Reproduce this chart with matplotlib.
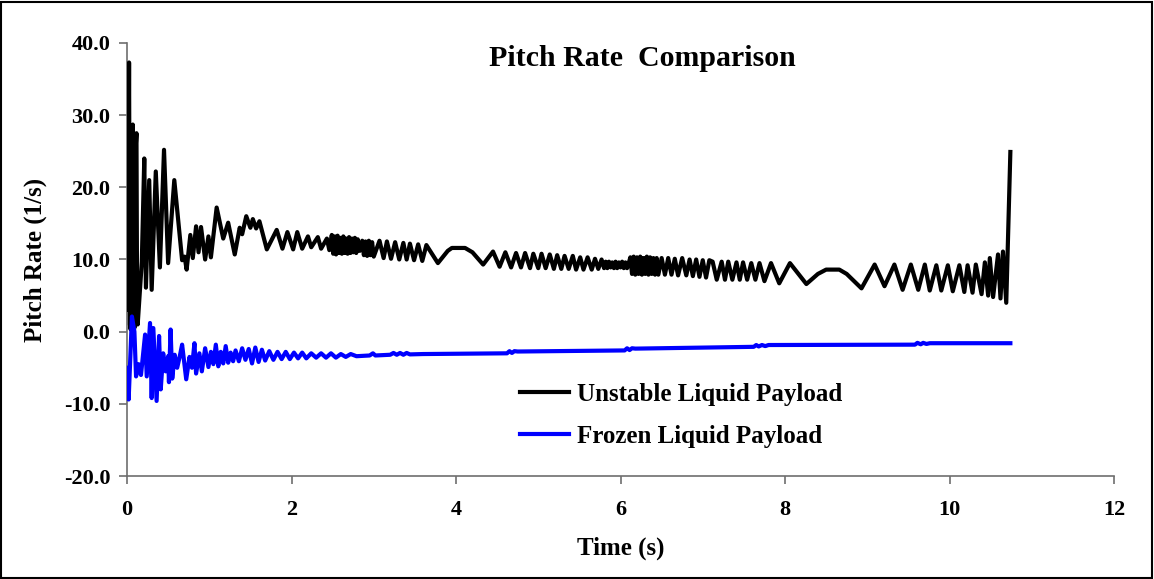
import matplotlib
matplotlib.use("Agg")
import matplotlib.pyplot as plt
from matplotlib.patches import Rectangle

# ---- data (peaks and troughs) ----
unstable_t = [
    0.00, 0.012, 0.025, 0.035, 0.045, 0.058, 0.07, 0.08, 0.09, 0.103, 0.115,
    0.123, 0.13, 0.18, 0.21, 0.23, 0.27, 0.30,
    0.35, 0.40, 0.45, 0.50, 0.575, 0.67, 0.70, 0.725, 0.77, 0.80, 0.84, 0.87,
    0.90, 0.95, 0.99, 1.02, 1.09, 1.17, 1.23, 1.31, 1.37, 1.40, 1.45, 1.50,
    1.53, 1.57, 1.61, 1.70, 1.82, 1.89, 1.95, 2.02, 2.07, 2.13, 2.20, 2.24,
    2.32, 2.36, 2.43, 2.46,
    2.49, 2.507, 2.525, 2.542, 2.56, 2.577, 2.595, 2.612, 2.63, 2.647, 2.665,
    2.682, 2.70, 2.717, 2.735, 2.752, 2.77, 2.787, 2.805, 2.83,
    2.86, 2.88, 2.90, 2.92, 2.94, 2.96, 2.98, 3.00,
    3.07, 3.12, 3.16, 3.21, 3.26, 3.31, 3.36, 3.40, 3.44, 3.49, 3.54, 3.59,
    3.64, 3.78, 3.90, 3.95, 4.11, 4.20, 4.33,
    4.45, 4.53, 4.60, 4.67, 4.73, 4.79, 4.84, 4.90, 4.94, 5.00, 5.04, 5.09,
    5.14, 5.19, 5.23, 5.28, 5.32, 5.37, 5.42, 5.46, 5.51, 5.55, 5.60, 5.65,
    5.69, 5.73, 5.77,
    5.80, 5.82, 5.84, 5.86, 5.88, 5.90, 5.92, 5.94, 5.96, 5.98, 6.00, 6.02,
    6.04, 6.06, 6.08, 6.10,
    6.12, 6.14, 6.16, 6.18, 6.20, 6.22, 6.24, 6.26, 6.28, 6.30, 6.32, 6.34,
    6.36, 6.38, 6.40, 6.42, 6.44, 6.46,
    6.50, 6.54, 6.58, 6.62, 6.66, 6.70, 6.75, 6.80, 6.84, 6.88, 6.92, 6.96,
    7.00, 7.04, 7.08, 7.12, 7.17, 7.23, 7.27, 7.31, 7.36, 7.41, 7.45, 7.49,
    7.54, 7.59, 7.64, 7.69, 7.75, 7.83, 7.93, 8.06, 8.26, 8.40, 8.50, 8.66,
    8.75, 8.93, 9.09, 9.21, 9.33, 9.43, 9.53, 9.62, 9.70, 9.76, 9.84, 9.90,
    9.98, 10.04, 10.12, 10.18, 10.22, 10.28, 10.32, 10.39, 10.43, 10.47,
    10.49, 10.53, 10.59, 10.62, 10.65, 10.69, 10.74,
]
unstable_v = [
    12.0, 3.0, 37.3, 1.0, 0.3, 26.0, 28.7, 2.0, 0.5, 25.0, 27.5,
    3.0, 1.0, 9.7, 24.0, 6.1, 21.0, 5.8,
    22.2, 8.9, 25.2, 9.5, 21.0, 9.9, 10.4, 8.6, 13.4, 10.2, 14.6, 11.0,
    14.5, 10.0, 13.2, 10.3, 17.2, 12.9, 15.1, 10.7, 14.4, 13.5, 16.0, 14.4,
    15.6, 14.3, 15.3, 11.4, 14.1, 11.5, 13.8, 11.4, 13.8, 11.5, 13.2, 11.7,
    13.1, 11.5, 12.9, 11.3,
    13.4, 10.8, 13.2, 10.7, 13.3, 10.9, 13.0, 10.8, 13.2, 10.9, 12.9, 10.8,
    13.1, 10.9, 12.9, 11.0, 13.0, 10.9, 12.8, 11.2,
    12.6, 10.6, 12.5, 10.5, 12.6, 10.6, 12.4, 10.4,
    12.6, 10.2, 12.5, 10.1, 12.4, 10.0, 12.3, 10.0, 12.2, 9.9, 12.1, 9.8,
    12.0, 9.5, 11.2, 11.6, 11.6, 11.0, 9.3,
    11.1, 9.0, 11.0, 8.9, 10.9, 8.9, 10.9, 8.8, 10.8, 8.8, 10.8, 8.8,
    10.7, 8.7, 10.6, 8.7, 10.5, 8.7, 10.5, 8.6, 10.3, 8.6, 10.3, 8.6,
    10.1, 8.7, 10.0,
    8.8, 9.7, 8.8, 9.7, 8.9, 9.6, 8.8, 9.7, 8.8, 9.6, 8.9, 9.7,
    8.8, 9.6, 8.8, 9.5,
    10.3, 8.0, 10.4, 7.9, 10.3, 8.0, 10.4, 7.9, 10.2, 8.0, 10.4, 7.9,
    10.3, 8.0, 10.2, 7.9, 10.2, 7.9,
    10.2, 7.9, 10.2, 7.9, 10.1, 7.8, 10.2, 7.8, 10.0, 7.7, 10.0, 7.6,
    9.9, 7.5, 9.9, 9.7, 7.2, 9.7, 7.2, 9.7, 7.2, 9.6, 7.2, 9.6,
    7.2, 9.5, 7.2, 9.5, 7.0, 9.5, 6.7, 9.5, 6.6, 8.0, 8.6, 8.6,
    8.0, 6.0, 9.3, 6.3, 9.3, 5.8, 9.3, 5.8, 9.3, 5.7, 9.2, 5.7,
    9.2, 5.6, 9.2, 5.5, 9.2, 5.4, 9.3, 5.2, 9.6, 5.0,
    10.2, 4.8, 10.7, 4.6, 11.1, 4.0, 24.9,
]

frozen_t = [
    0.00, 0.02, 0.06, 0.09, 0.11, 0.14, 0.17, 0.22, 0.24, 0.28, 0.30, 0.32,
    0.36, 0.39, 0.41, 0.44, 0.47, 0.50, 0.51, 0.53, 0.55, 0.58, 0.61, 0.64,
    0.67, 0.72, 0.76, 0.79, 0.82, 0.84, 0.88, 0.91, 0.95, 0.99, 1.02, 1.05,
    1.08, 1.11, 1.14, 1.17, 1.20, 1.23, 1.26, 1.29, 1.32, 1.36, 1.40, 1.44,
    1.48, 1.52, 1.56, 1.60, 1.64, 1.68, 1.73, 1.78, 1.83, 1.88, 1.93, 1.98,
    2.03, 2.08, 2.13, 2.18, 2.24, 2.30, 2.36, 2.42, 2.48, 2.54, 2.60, 2.66,
    2.72, 2.79, 2.95, 2.99, 3.02, 3.20, 3.24, 3.28, 3.32, 3.36, 3.40, 3.44,
    3.60, 4.62, 4.65, 4.68, 4.71, 4.75, 6.05, 6.08, 6.11, 6.14, 6.18, 7.62,
    7.65, 7.68, 7.72, 7.76, 7.80, 9.58, 9.61, 9.65, 9.68, 9.72, 9.76, 10.74,
]
frozen_v = [
    -5.0, -9.4, 2.1, 0.0, -6.2, -4.5, -6.0, -0.4, -6.2, 1.2, -9.2, 0.5,
    -9.6, -0.6, -8.0, -3.0, -5.5, -3.4, -7.0, 0.3, -6.5, -3.2, -5.0, -3.5,
    -1.8, -6.6, -3.5, -5.0, -1.6, -5.8, -3.0, -5.5, -2.3, -4.9, -2.8, -4.5,
    -1.8, -4.8, -2.8, -4.4, -2.0, -4.3, -2.9, -4.1, -2.6, -4.1, -2.3, -3.9,
    -2.4, -4.4, -2.2, -4.2, -2.5, -4.0, -2.7, -3.9, -2.8, -3.8, -2.8, -3.8,
    -2.9, -3.7, -2.9, -3.7, -3.0, -3.6, -3.0, -3.6, -3.0, -3.6, -3.1, -3.5,
    -3.1, -3.4, -3.3, -3.0, -3.3, -3.2, -2.95, -3.2, -2.95, -3.2, -2.95, -3.15,
    -3.1, -3.0, -2.7, -2.95, -2.7, -2.75, -2.6, -2.3, -2.55, -2.3, -2.35, -2.1,
    -1.85, -2.05, -1.85, -2.0, -1.85, -1.8, -1.55, -1.75, -1.55, -1.7, -1.6, -1.6,
]

series_labels = ["Unstable Liquid Payload", "Frozen Liquid Payload"]
x_ticks = [0, 2, 4, 6, 8, 10, 12]
y_ticks = [-20, -10, 0, 10, 20, 30, 40]

# ---- figure ----
SERIF = ["Liberation Serif", "DejaVu Serif"]
plt.rcParams["font.family"] = SERIF
plt.rcParams["font.weight"] = "bold"

fig = plt.figure(figsize=(11.54, 5.79), dpi=100)
ax = fig.add_axes([127 / 1154, 1 - 476 / 579, (1114 - 127) / 1154, (476 - 43) / 579])

ax.plot(unstable_t, unstable_v, color="black", lw=3.0, solid_joinstyle="round",
        label=series_labels[0], zorder=3)
ax.plot(frozen_t, frozen_v, color="#0000FF", lw=3.0, solid_joinstyle="round",
        label=series_labels[1], zorder=4)

ax.set_xlim(0, 12)
ax.set_ylim(-20, 40)
ax.set_xticks(x_ticks)
ax.set_yticks(y_ticks)
ax.set_yticklabels([f"{v:.1f}" for v in y_ticks])
for s in ["top", "right"]:
    ax.spines[s].set_visible(False)
for s in ["left", "bottom"]:
    ax.spines[s].set_color("#6e6e6e")
    ax.spines[s].set_linewidth(1.2)
ax.tick_params(axis="both", direction="out", length=6, width=1.2, color="#6e6e6e",
               labelsize=16, pad=6)
ax.tick_params(axis="x", pad=11)
for lab in ax.get_xticklabels() + ax.get_yticklabels():
    lab.set_fontweight("bold")

ax.set_xlabel("Time (s)", fontsize=18, fontweight="bold", labelpad=12)
ax.set_ylabel("Pitch Rate (1/s)", fontsize=18, fontweight="bold", labelpad=12)

fig.text(642 / 1154, 1 - 59 / 579, "Pitch Rate  Comparison", ha="center", va="center",
         fontsize=21.5, fontweight="bold")

leg = ax.legend(loc="upper left", bbox_to_anchor=(520 / 1154, 1 - 383 / 579),
                bbox_transform=fig.transFigure, frameon=False, fontsize=18,
                handlelength=1.95, handletextpad=0.32, labelspacing=0.76,
                borderpad=0, borderaxespad=0)
for t in leg.get_texts():
    t.set_fontweight("bold")

fig.patches.append(Rectangle((0.001, 0.002), 0.997, 0.995, transform=fig.transFigure,
                             fill=False, edgecolor="black", lw=1.5))

fig.savefig("out.png", dpi=100)
